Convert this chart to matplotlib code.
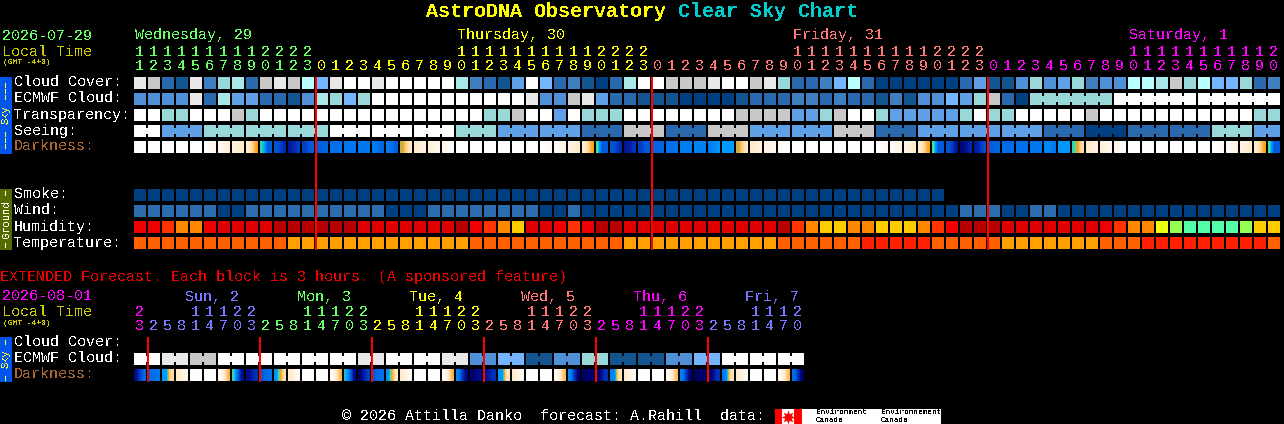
import matplotlib
matplotlib.use('Agg')
import matplotlib.pyplot as plt
from matplotlib.colors import LinearSegmentedColormap
from matplotlib.patches import Rectangle

plt.rcParams['font.family'] = ['Liberation Mono', 'DejaVu Sans Mono']
plt.rcParams['text.antialiased'] = False

# Colour scales, one entry per level used in the rows below
sky_colors = ['#004080', '#135590', '#2a69ad', '#3f7fc0', '#5090d8', '#60a0e6', '#75b5ff',
              '#98d8d8', '#a8e8e8', '#b8ffff', '#c8c8c8', '#e8e8e8', '#ffffff']
humidity_colors = ['#b80000', '#e00000', '#ee0000', '#ff3300', '#ff8800', '#ffcc00',
                   '#eeff11', '#99ff55', '#55ffaa']
temp_colors = ['#ff2000', '#ff6000', '#ffa000']
wind_colors = ['#004080', '#2d6dad']

# Hourly rows, 82 blocks starting at 11:00
cloud_cover = [11, 10, 2, 1, 11, 3, 7, 8, 2, 10, 11, 10, 9, 6, 11, 12, 12, 11, 12, 12, 12,
               12, 12, 8, 3, 2, 1, 5, 12, 6, 2, 3, 1, 0, 2, 8, 12, 12, 10, 10, 10, 11, 12, 12, 10, 11, 7, 2, 2, 3, 6, 9,
               2, 0, 0, 0, 0, 0, 0, 2, 5, 1, 1, 4, 7, 4, 5, 7, 3, 4, 4, 9, 9, 8, 10, 7, 9, 6, 6, 7, 2, 3]
ecmwf_cloud = [4, 4, 4, 4, 11, 2, 8, 5, 5, 2, 2, 1, 4, 8, 7, 6, 7, 12, 12, 12, 12,
               12, 12, 12, 12, 12, 12, 12, 11, 4, 4, 10, 11, 5, 2, 2, 1, 1, 1, 0, 0, 0, 0, 1, 2, 2, 2, 3, 3, 2, 3, 2,
               2, 1, 3, 1, 4, 4, 6, 5, 7, 10, 2, 0, 7, 7, 7, 7, 7, 7, 12, 12, 12, 12, 12, 12, 12, 12, 12, 12, 12, 12]
transparency = [12, 12, 7, 7, 12, 12, 12, 10, 7, 12, 12, 12, 12, 12, 12, 12, 12, 12, 12, 12, 12,
                12, 12, 12, 12, 7, 7, 10, 12, 12, 5, 12, 7, 7, 7, 12, 12, 12, 12, 12, 12, 12, 12, 10, 10, 10, 10, 5, 5, 7, 10, 12,
                12, 7, 5, 5, 5, 5, 5, 7, 12, 7, 7, 12, 12, 12, 12, 12, 10, 12, 12, 12, 12, 12, 12, 12, 12, 12, 12, 12, 7, 7]
seeing = [12, 12, 5, 5, 5, 7, 7, 7, 7, 7, 7, 7, 7, 7, 12, 12, 12, 12, 12, 12, 12, 12, 12,
          7, 7, 7, 5, 5, 5, 5, 5, 5, 2, 2, 2, 10, 10, 10, 2, 2, 2, 10, 10, 10, 5, 5, 5, 5, 5, 5, 10, 10, 10,
          2, 2, 2, 5, 5, 5, 5, 5, 5, 5, 5, 5, 2, 2, 2, 0, 0, 0, 2, 2, 2, 2, 2, 2, 7, 7, 7, 5, 5]
smoke = [0] * 58
wind = [1, 1, 1, 1, 1, 1, 0, 0, 1, 1, 1, 1, 1, 1, 1, 1, 1, 1, 0, 0, 0,
        1, 1, 1, 1, 1, 1, 1, 1, 0, 0, 1, 0, 0, 0, 0, 0, 0, 0, 0, 0, 0, 0, 0, 0, 0, 0, 0, 0, 0, 0, 0,
        0, 0, 0, 0, 0, 0, 0, 1, 1, 1, 0, 0, 1, 1, 0, 0, 0, 0, 0, 0, 0, 0, 0, 0, 0, 0, 0, 0, 0, 0]
humidity = [2, 2, 3, 4, 4, 2, 1, 1, 1, 1, 0, 0, 0, 0, 0, 0, 1, 1, 1, 1, 1,
            1, 1, 0, 2, 3, 4, 5, 1, 1, 2, 3, 2, 0, 0, 1, 1, 1, 1, 1, 1, 1, 1, 1, 1, 1, 0, 3, 4, 5, 5, 4,
            4, 5, 5, 5, 4, 3, 2, 0, 0, 0, 1, 1, 1, 1, 1, 1, 1, 2, 3, 4, 4, 6, 7, 8, 8, 8, 8, 7, 5, 5]
temperature = [1, 1, 1, 1, 1, 1, 1, 1, 1, 1, 1, 2, 2, 2, 2, 2, 2, 2, 2, 2, 2,
               2, 2, 2, 1, 1, 1, 1, 1, 1, 1, 1, 1, 1, 1, 2, 2, 2, 2, 2, 2, 2, 2, 2, 2, 2, 1, 1, 1, 1, 1, 1,
               0, 0, 0, 0, 0, 1, 1, 1, 1, 1, 2, 2, 2, 2, 2, 2, 2, 1, 1, 1, 0, 0, 0, 0, 0, 0, 0, 0, 0, 1]

# Darkness shades across each block: 0 white, 1 cream, 2 orange, 3 sky, 4 blue, 5.5 navy
darkness = [(0,), (0,), (0,), (0,), (0,), (0, .35), (.3, .6), (.6, .85), (.9, 1.3, 2), (2.6, 3, 4.2, 4.2), (4.3, 4.5, 4.9),
            (5.1, 4.9, 4.6), (4.6, 4.2), (4.2, 4.1), (3.9,), (3.8,), (3.8,), (3.7, 3.9, 4.1), (3.7, 3.9, 4.2), (2.2, 1.5, 1),
            (.9, .6), (.6, .3), (.3, .1),
            (0,), (0,), (0,), (0,), (0,), (0,), (0, .2), (.2, .5), (.5, .8), (.9, 1.3, 2), (2.5, 4.2, 4.2), (4.3, 4.5, 4.9),
            (5.2, 5, 4.7), (4.6, 4.2), (4.1,), (3.9,), (3.7,), (3.6,), (3.7, 3.5, 3.2), (3.1,), (2.2, 1.5, 1), (.9, .6), (.5, .3), (.2, 0),
            (0,), (0,), (0,), (0,), (0,),
            (0,), (0, .2), (.2, .5), (.5, .8), (.9, 1.3, 2), (2.5, 4.2, 4.2), (4.3, 4.6, 5.2), (5.4, 5.2, 4.9), (5.1, 4.8, 4.4),
            (4.2, 4.1), (4,), (3.9,), (3.8,), (3.5, 3.5, 3.8), (3.2,), (2.6, 2, 1.2), (.9, .6), (.6, .3), (.3, .1),
            (0,), (0,), (0,), (0,), (0,), (0,), (0, .2), (.2, .5), (.5, .8), (.9, 1.3, 2), (2.5, 4.2, 4.2)]

# Extended rows, 48 blocks of 3 hours
ecmwf_ext = [12, 11, 10, 12, 12, 12, 12, 12, 11, 12, 12, 11, 4, 6, 1, 4, 7, 1, 1, 4, 6, 12, 12, 12]
darkness_ext = [(5.3, 4.6, 4), (4, 3.8), (3.2, 3.2, 1.6, 1.2), (.9, .3), (0,), (0,), (.1, .8, 1.8), (2.6, 4.2, 5.3),
                (5.3, 4.8), (4.2, 3.9), (3.3, 2.2, 1.2), (.9, .2), (0,), (0,), (.1, .8, 1.8), (2.8, 4, 5.3),
                (5.5, 5, 4.6), (4.2, 3.9), (3.3, 2, 1), (.8, .2), (0,), (0,), (.1, .8, 1.8), (3.5, 4.6, 5.4),
                (5.5, 5.3), (5.2, 4.8), (3.2, 3.2, 1.5, 1), (.8, .2), (0,), (0,), (.2, .8, 1.7), (3.4, 4.6, 5.5),
                (5.6, 5.5), (5.5, 4.8), (3.6, 3.5, 1.6, 1), (.8, .2), (0,), (0,), (.2, .8, 1.7), (3.6, 4.6, 5.5),
                (5.7, 5.6), (5.5, 4.8), (3.8, 3.4, 1.6, 1), (.8, .2), (0,), (0,), (.2, .8, 1.7), (4, 4.7, 5.6)]

# Hour labels and day headings
hours = [11 + i for i in range(13)] + list(range(24)) * 2 + list(range(21))
hour_days = [0] * 13 + [1] * 24 + [2] * 24 + [3] * 21
day_colors = ['#66ff66', '#ffff00', '#ff7777', '#ff00ff']
day_names = ['Wednesday, 29', 'Thursday, 30', 'Friday, 31', 'Saturday, 1']
day_columns = [0, 23, 47, 71]
now_columns = [13, 37, 61]

ext_hours = [23] + [2, 5, 8, 11, 14, 17, 20, 23] * 5 + [2, 5, 8, 11, 14, 17, 20]
ext_days = [0] + [1] * 8 + [2] * 8 + [3] * 8 + [4] * 8 + [5] * 8 + [6] * 7
ext_day_colors = ['#ff00ff', '#7777ff', '#66ff66', '#ffff00', '#ff7777', '#ff00ff', '#7777ff']
ext_day_names = ['Sun, 2', 'Mon, 3', 'Tue, 4', 'Wed, 5', 'Thu, 6', 'Fri, 7']
ext_day_px = [185, 297, 409, 521, 633, 745]
ext_now_px = [147, 259, 371, 483, 595, 707]

sky_labels = ['Cloud Cover:', 'ECMWF Cloud:', 'Transparency:', 'Seeing:']
ground_labels = ['Smoke:', 'Wind:', 'Humidity:', 'Temperature:']

X0 = 134      # left edge of the first block
STEP = 14
CELL = 12

darkness_cmap = LinearSegmentedColormap.from_list('darkness', [
    (0, '#ffffff'), (1 / 6, '#ffe8c4'), (1.5 / 6, '#ffcf88'), (2 / 6, '#ff9f18'), (2.5 / 6, '#40e0a0'),
    (3 / 6, '#00a0ff'), (3.5 / 6, '#0088f8'), (4 / 6, '#006ce8'), (4.5 / 6, '#0048cc'),
    (5 / 6, '#0020a8'), (5.5 / 6, '#000070'), (1, '#000050')])

fig = plt.figure(figsize=(12.84, 4.24), dpi=100, facecolor='black')
ax = fig.add_axes([0, 0, 1, 1])
ax.set_facecolor('black')
ax.axis('off')


def block(x, y, w, h, color, zorder=2):
    ax.add_patch(Rectangle((x, y), w, h, facecolor=color, edgecolor='none', antialiased=False, zorder=zorder))


def draw_row(values, colors, y, joined=None):
    for i, v in enumerate(values):
        x = X0 + i * STEP
        block(x, y, CELL, CELL, colors[v])
        # blocks of one forecast step are linked by a short bridge
        if joined is not None and i + 1 < len(values) and joined[i] == joined[i + 1]:
            block(x + CELL, y + 3, STEP - CELL, 6, colors[v])


def draw_shades(values, y):
    for i, stops in enumerate(values):
        x = X0 + i * STEP
        ax.imshow([list(stops)], extent=(x, x + CELL, y + CELL, y), cmap=darkness_cmap, vmin=0, vmax=6,
                  interpolation='bilinear', aspect='auto', zorder=2)


def label(x, y, s, color='white', size=10.8, **kw):
    ax.text(x, y + 1.5, s, color=color, fontsize=size, va='center', ha=kw.pop('ha', 'left'), **kw)


def side_bar(y0, y1, color, s, yc, size, text_color, dashes):
    block(0, y0, 12, y1 - y0, color)
    ax.text(6, yc, s, color=text_color, fontsize=size, rotation=90, ha='center', va='center')
    # rotated hyphens of the original, one (top, bottom) per dash
    for top, bottom in dashes:
        block(5, top, 1, bottom - top, text_color, zorder=3)


# title
label(426, 10, 'AstroDNA Observatory', '#ffff00', 14.4, fontweight='bold')
label(678, 10, 'Clear Sky Chart', '#00cccc', 14.4, fontweight='bold')

# hourly header
label(2, 34, '2026-07-29', day_colors[0])
label(2, 50, 'Local Time', '#cccc00')
label(3, 61, '(GMT -4+0)', '#cccc00', 5.8)
for name, col, color in zip(day_names, day_columns, day_colors):
    label(X0 + 1 + col * STEP, 34, name, color)
for i, (h, d) in enumerate(zip(hours, hour_days)):
    xc = X0 + i * STEP + 5.5
    if h >= 10:
        label(xc, 50, str(h // 10), day_colors[d], ha='center')
    label(xc, 65, str(h % 10), day_colors[d], ha='center')

# hourly sky rows
draw_row(cloud_cover, sky_colors, 77)
ecmwf_blocks = list(range(64)) + [64 + (i // 6) * 100 for i in range(18)]
draw_row(ecmwf_cloud, sky_colors, 93, ecmwf_blocks)
draw_row(transparency, sky_colors, 109)
seeing_blocks = [0, 0] + [1 + i // 3 for i in range(80)]
draw_row(seeing, sky_colors, 125, seeing_blocks)
draw_shades(darkness, 141)
for row, text in enumerate(sky_labels):
    label(14, 81 + row * 16, text)
label(14, 145, 'Darkness:', '#aa6633')
side_bar(77, 154, '#0055ee', 'Sky', 115, 7.6, '#ffff44',
         [(83, 88), (89, 94), (95, 100), (132, 137), (138, 143), (144, 149)])

# hourly ground rows
draw_row(smoke, ['#003f7f'], 189)
draw_row(wind, wind_colors, 205)
draw_row(humidity, humidity_colors, 221)
draw_row(temperature, temp_colors, 237)
for row, text in enumerate(ground_labels):
    label(14, 193 + row * 16, text)
side_bar(189, 250, '#556b00', 'Ground', 219, 7.6, 'white', [(191, 196), (243, 248)])

for col in now_columns:
    block(X0 + col * STEP - 1, 77, 2, 173, '#ff0000', zorder=3)

# extended forecast
label(0, 276, 'EXTENDED Forecast. Each block is 3 hours. (A sponsored feature)', '#ee0000')
label(2, 295, '2026-08-01', '#ff00ff')
label(2, 310, 'Local Time', '#cccc00')
label(3, 322, '(GMT -4+0)', '#cccc00', 5.8)
for name, px, color in zip(ext_day_names, ext_day_px, ext_day_colors[1:]):
    label(px, 295, name, color)
for i, (h, d) in enumerate(zip(ext_hours, ext_days)):
    xc = X0 + i * STEP + 5.5
    if h >= 10:
        label(xc, 310, str(h // 10), ext_day_colors[d], ha='center')
    label(xc, 325, str(h % 10), ext_day_colors[d], ha='center')

ecmwf_ext_cells = [v for v in ecmwf_ext for _ in range(2)]
draw_row(ecmwf_ext_cells, sky_colors, 353, [i // 2 for i in range(48)])
draw_shades(darkness_ext, 369)
label(14, 341, 'Cloud Cover:')
label(14, 357, 'ECMWF Cloud:')
label(14, 373, 'Darkness:', '#aa6633')
side_bar(337, 382, '#0055ee', 'Sky', 359, 7.6, '#ffff44', [(340, 345), (376, 381)])
for px in ext_now_px:
    block(px, 337, 2, 45, '#ff0000', zorder=3)

# footer
label(342, 414, '\u00a9 2026 Attilla Danko  forecast: A.Rahill  data:')
block(775, 409, 166, 15, 'white')
block(775, 409, 7, 15, '#ff0000')
block(794, 409, 8, 15, '#ff0000')
ax.plot([788], [416.5], marker=(8, 1, 0), markersize=10, color='#ff0000', markeredgewidth=0, zorder=3)
label(816, 411, 'Environment', 'black', 5.6)
label(816, 418.5, 'Canada', 'black', 5.6)
label(881, 411, 'Environnement', 'black', 5.6)
label(881, 418.5, 'Canada', 'black', 5.6)

ax.set_xlim(0, 1284)
ax.set_ylim(424, 0)
fig.savefig('out.png', dpi=100, facecolor='black')
